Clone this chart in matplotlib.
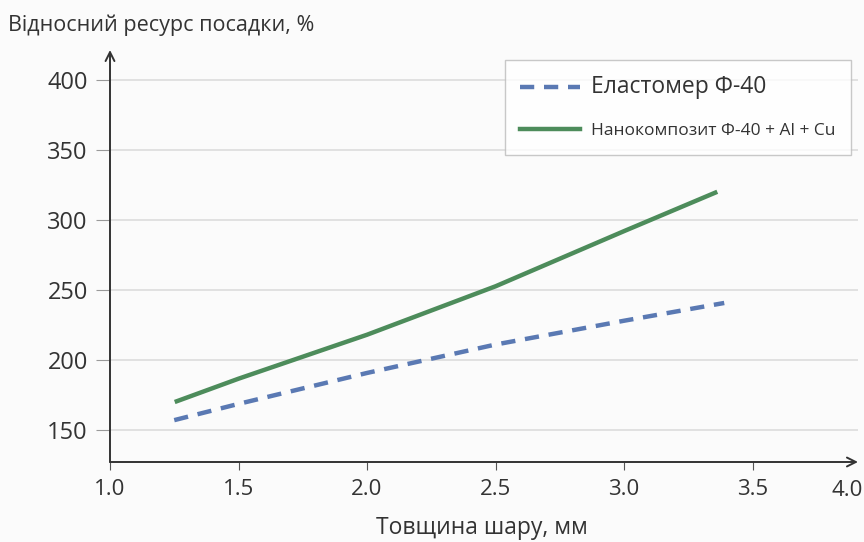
import matplotlib
matplotlib.use("Agg")
import matplotlib.pyplot as plt

# data
x_elast = [1.25, 1.5, 2.0, 2.5, 3.0, 3.39]
y_elast = [157, 168.6, 190.7, 211, 228, 240.7]
x_nano = [1.26, 1.5, 2.0, 2.5, 3.0, 3.355]
y_nano = [170.5, 186.6, 218, 252.6, 292, 319.5]

x_ticks = [1.0, 1.5, 2.0, 2.5, 3.0, 3.5]
x_ticklabels = ['1.0', '1.5', '2.0', '2.5', '3.0', '3.5']
y_ticks = [150, 200, 250, 300, 350, 400]

labels = ['Еластомер Ф-40', 'Нанокомпозит Ф-40 + Al + Cu']
colors = ['#5a79b3', '#4d8c5b']

plt.rcParams['font.family'] = ['Open Sans', 'DejaVu Sans']

fig = plt.figure(figsize=(8.64, 5.42), dpi=100, facecolor='#fbfbfb')
ax = fig.add_axes([110 / 864, 80 / 542, 748 / 864, 412 / 542])
ax.set_facecolor('#fbfbfb')

ax.set_xlim(1.0, 1.0 + 748 / 257)
ax.set_ylim(127.1, 421.4)

for v in y_ticks:
    ax.axhline(v, color='#dcdcdc', lw=1.2, zorder=0)

l1, = ax.plot(x_elast, y_elast, color=colors[0], lw=3.2, ls=(0, (3.2, 2.2)),
              label=labels[0])
l2, = ax.plot(x_nano, y_nano, color=colors[1], lw=3.2, label=labels[1])

for s in ['top', 'right', 'left', 'bottom']:
    ax.spines[s].set_visible(False)

# axes with arrow heads
ax.annotate('', xy=(1, 0), xytext=(0, 0), xycoords='axes fraction',
            arrowprops=dict(arrowstyle='->', color='#333333', lw=1.4,
                            mutation_scale=16, shrinkA=0, shrinkB=0))
ax.annotate('', xy=(0, 1), xytext=(0, 0), xycoords='axes fraction',
            arrowprops=dict(arrowstyle='->', color='#333333', lw=1.4,
                            mutation_scale=16, shrinkA=0, shrinkB=0))

ax.set_xticks(x_ticks)
ax.set_xticklabels(x_ticklabels)
ax.set_yticks(y_ticks)
ax.tick_params(axis='x', length=6, width=0.8, color='#555555', labelsize=16,
               labelcolor='#333333', pad=6)
ax.tick_params(axis='y', length=10, width=0.8, color='#999999', labelsize=17,
               labelcolor='#333333', pad=6)
ax.text(1.006, -0.043, '4.0', transform=ax.transAxes, ha='right', va='top',
        fontsize=16, color='#333333')

fig.text(8 / 864, 1 - 25 / 542, 'Відносний ресурс посадки, %', fontsize=15.5,
         color='#333333', va='center', ha='left')
fig.text(482 / 864, 1 - 528 / 542, 'Товщина шару, мм', fontsize=16.5,
         color='#333333', va='center', ha='center')

leg = ax.legend(handles=[l1, l2], loc='upper left',
                bbox_to_anchor=(505 / 864, 1 - 60 / 542),
                bbox_transform=fig.transFigure, frameon=True, fancybox=False,
                handlelength=3.3, handletextpad=0.6, labelspacing=1.3,
                borderpad=0.85, borderaxespad=0, facecolor='white',
                edgecolor='#bbbbbb', fontsize=13)
leg.get_frame().set_linewidth(1.0)
txts = leg.get_texts()
txts[0].set_fontsize(16.5)
txts[1].set_fontsize(12.5)
for t in txts:
    t.set_color('#333333')

fig.savefig('out.png', dpi=100, facecolor=fig.get_facecolor())
